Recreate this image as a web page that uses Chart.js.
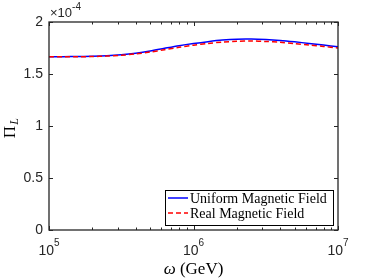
<!DOCTYPE html>
<html>
<head>
<meta charset="utf-8">
<style>
html,body{margin:0;padding:0;background:#fff;}
#wrap{width:374px;height:280px;position:relative;}
</style>
<script src="https://cdn.jsdelivr.net/npm/chart.js@4.4.1/dist/chart.umd.min.js"></script>
</head>
<body>
<div id="wrap"><canvas id="c" width="374" height="280"></canvas></div>
<script>
// omega (GeV) sample points
const omega = [1e5, 1.259e5, 1.585e5, 1.995e5, 2.512e5, 3.162e5, 3.981e5, 5.012e5, 6.310e5, 7.943e5,
               1e6, 1.259e6, 1.585e6, 1.995e6, 2.512e6, 3.162e6, 3.981e6, 5.012e6, 6.310e6, 7.943e6, 1e7];
// Pi_L values in units of 1e-4
const uniformField = [1.667, 1.667, 1.668, 1.670, 1.675, 1.685, 1.700, 1.721, 1.747, 1.772,
                      1.793, 1.811, 1.826, 1.835, 1.836, 1.831, 1.822, 1.809, 1.794, 1.778, 1.762];
const realField    = [1.665, 1.665, 1.666, 1.668, 1.672, 1.680, 1.693, 1.711, 1.734, 1.757,
                      1.777, 1.794, 1.807, 1.815, 1.817, 1.813, 1.805, 1.793, 1.779, 1.765, 1.750];
const seriesNames = ['Uniform Magnetic Field', 'Real Magnetic Field'];
const yTicks = [0, 0.5, 1, 1.5, 2];
const yTickLabels = ['0', '0.5', '1', '1.5', '2'];
const xMajorTicks = [1e5, 1e6, 1e7];
const xMajorExp = ['5', '6', '7'];
const xMinorTicks = [2e5, 3e5, 4e5, 5e5, 6e5, 7e5, 8e5, 9e5, 2e6, 3e6, 4e6, 5e6, 6e6, 7e6, 8e6, 9e6];

const AX = '#262626';

const decor = {
  id: 'decor',
  afterDraw(chart) {
    const ctx = chart.ctx, a = chart.chartArea;
    const xs = chart.scales.x, ys = chart.scales.y;
    ctx.save();
    ctx.strokeStyle = AX; ctx.lineWidth = 1;
    // ticks
    ctx.beginPath();
    xMajorTicks.forEach(v => {
      const px = Math.round(xs.getPixelForValue(v)) + 0.5;
      ctx.moveTo(px, a.bottom); ctx.lineTo(px, a.bottom - 4);
      ctx.moveTo(px, a.top); ctx.lineTo(px, a.top + 4);
    });
    xMinorTicks.forEach(v => {
      const px = Math.round(xs.getPixelForValue(v)) + 0.5;
      ctx.moveTo(px, a.bottom); ctx.lineTo(px, a.bottom - 2.5);
      ctx.moveTo(px, a.top); ctx.lineTo(px, a.top + 2.5);
    });
    yTicks.forEach(v => {
      const py = Math.round(ys.getPixelForValue(v)) + 0.5;
      ctx.moveTo(a.left, py); ctx.lineTo(a.left + 4, py);
      ctx.moveTo(a.right, py); ctx.lineTo(a.right - 4, py);
    });
    ctx.stroke();
    // box
    ctx.lineWidth = 1.3;
    ctx.strokeRect(a.left, a.top, a.right - a.left, a.bottom - a.top);

    // y tick labels
    ctx.fillStyle = AX;
    ctx.font = '14px "Liberation Sans", Arial, sans-serif';
    ctx.textAlign = 'right'; ctx.textBaseline = 'middle';
    yTicks.forEach((v, i) => {
      ctx.fillText(yTickLabels[i], a.left - 6, ys.getPixelForValue(v) + 0.5);
    });
    // x tick labels 10^n
    ctx.textBaseline = 'alphabetic'; ctx.textAlign = 'left';
    xMajorTicks.forEach((v, i) => {
      const px = xs.getPixelForValue(v);
      ctx.font = '14px "Liberation Sans", Arial, sans-serif';
      const w1 = ctx.measureText('10').width;
      ctx.font = '10px "Liberation Sans", Arial, sans-serif';
      const w2 = ctx.measureText(xMajorExp[i]).width;
      const x0 = px - (w1 + w2) / 2;
      ctx.font = '14px "Liberation Sans", Arial, sans-serif';
      ctx.fillText('10', x0, a.bottom + 25);
      ctx.font = '10px "Liberation Sans", Arial, sans-serif';
      ctx.fillText(xMajorExp[i], x0 + w1, a.bottom + 16);
    });
    // exponent label
    ctx.font = '13px "Liberation Sans", Arial, sans-serif';
    ctx.fillText('\u00d710', a.left + 1, a.top - 5);
    const we = ctx.measureText('\u00d710').width;
    ctx.font = '10px "Liberation Sans", Arial, sans-serif';
    ctx.fillText('-4', a.left + 1 + we, a.top - 12);

    // x axis title
    ctx.fillStyle = '#000';
    ctx.font = 'italic 17px "Liberation Serif", "Times New Roman", serif';
    const t1 = '\u03c9';
    const wOm = ctx.measureText(t1).width;
    ctx.font = '17px "Liberation Serif", "Times New Roman", serif';
    const t2 = ' (GeV)';
    const wG = ctx.measureText(t2).width;
    const cx = (a.left + a.right) / 2;
    let sx = cx - (wOm + wG) / 2;
    ctx.font = 'italic 17px "Liberation Serif", "Times New Roman", serif';
    ctx.fillText(t1, sx, 274);
    ctx.font = '17px "Liberation Serif", "Times New Roman", serif';
    ctx.fillText(t2, sx + wOm, 274);

    // y axis title  Pi_L
    ctx.save();
    ctx.translate(15, 129);
    ctx.rotate(-Math.PI / 2);
    ctx.font = '17px "Liberation Serif", "Times New Roman", serif';
    const wPi = ctx.measureText('\u03a0').width;
    ctx.fillText('\u03a0', -wPi / 2 - 3, 0);
    ctx.font = 'italic 12px "Liberation Serif", "Times New Roman", serif';
    ctx.fillText('L', wPi / 2 - 2, 3);
    ctx.restore();

    // legend
    const lx = 165, ly = 190, lw = 168, lh = 35;
    ctx.fillStyle = '#fff';
    ctx.fillRect(lx, ly, lw, lh);
    ctx.strokeStyle = '#000'; ctx.lineWidth = 1;
    ctx.strokeRect(lx + 0.5, ly + 0.5, lw, lh);
    const ds = chart.data.datasets;
    const rows = [{d: ds[1], y: 198}, {d: ds[0], y: 213}];
    rows.forEach((r, i) => {
      ctx.strokeStyle = r.d.borderColor; ctx.lineWidth = r.d.borderWidth;
      ctx.setLineDash(r.d.borderDash || []);
      ctx.beginPath(); ctx.moveTo(168, r.y); ctx.lineTo(188, r.y); ctx.stroke();
      ctx.setLineDash([]);
      ctx.fillStyle = '#000';
      ctx.font = '14px "Liberation Serif", "Times New Roman", serif';
      ctx.fillText(r.d.label, 190, r.y + 5);
    });
    ctx.restore();
  }
};

new Chart(document.getElementById('c'), {
  type: 'line',
  data: {
    datasets: [
      { label: seriesNames[1], data: omega.map((x, i) => ({x, y: realField[i]})),
        borderColor: '#ff0000', borderWidth: 1.5, borderDash: [5, 3], pointRadius: 0, tension: 0.3, fill: false, order: 0 },
      { label: seriesNames[0], data: omega.map((x, i) => ({x, y: uniformField[i]})),
        borderColor: '#0000ff', borderWidth: 1.5, pointRadius: 0, tension: 0.3, fill: false, order: 1 }
    ]
  },
  options: {
    responsive: false, animation: false, devicePixelRatio: 1,
    layout: { padding: { left: 49, right: 36, top: 22, bottom: 50 } },
    plugins: { legend: { display: false }, tooltip: { enabled: false } },
    scales: {
      x: { type: 'logarithmic', min: 1e5, max: 1e7,
           ticks: { display: false }, grid: { display: false }, border: { display: false },
           afterFit: s => { s.height = 0; } },
      y: { type: 'linear', min: 0, max: 2,
           ticks: { display: false }, grid: { display: false }, border: { display: false },
           afterFit: s => { s.width = 0; } }
    }
  },
  plugins: [decor]
});
</script>
</body>
</html>
